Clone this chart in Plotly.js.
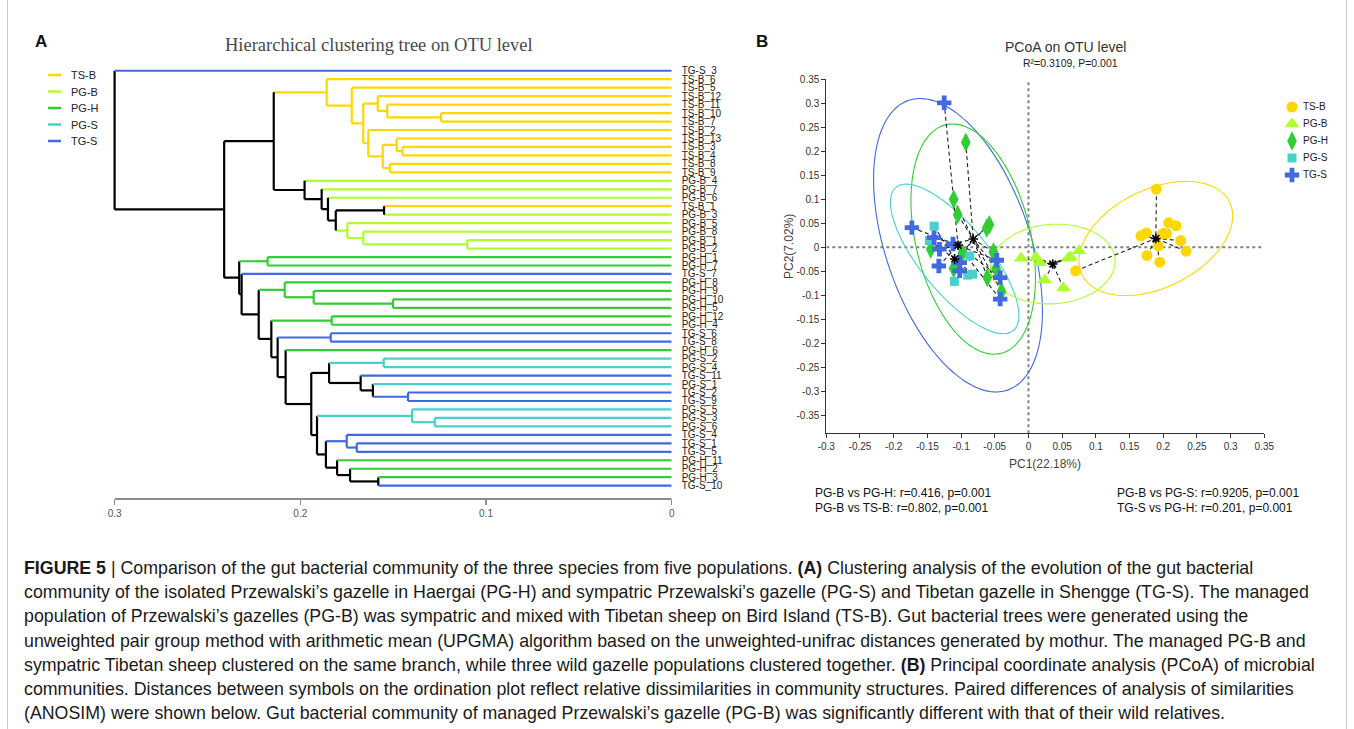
<!DOCTYPE html>
<html>
<head>
<meta charset="utf-8">
<script src="https://cdn.plot.ly/plotly-3.0.1.min.js"></script>
<style>
  html, body { margin: 0; padding: 0; background: #fff; }
  #fig { width: 1354px; height: 729px; }
</style>
</head>
<body>
<div id="fig"></div>
<script>
// ---------- page geometry helpers (pixels -> paper fractions) ----------
const W = 1354, H = 729;
const px = x => x / W;
const py = y => 1 - y / H;

// ---------- groups ----------
const groups       = ['TS-B', 'PG-B', 'PG-H', 'PG-S', 'TG-S'];
const groupColors  = ['#FFD700', '#ADFF2F', '#32CD32', '#48D1CC', '#4169E1'];
const groupSymbols = ['circle', 'triangle-up', 'diamond-tall', 'square', 'cross'];
const groupSizes   = [11, 13, 14, 9, 12];
const colorOf = g => groupColors[groups.indexOf(g)];

// ---------- (A) UPGMA tree: leaf order top to bottom ----------
const leafOrder = [
  'TG-S_3', 'TS-B_6', 'TS-B_5', 'TS-B_12', 'TS-B_11', 'TS-B_10', 'TS-B_7', 'TS-B_2',
  'TS-B_13', 'TS-B_3', 'TS-B_4', 'TS-B_8', 'TS-B_9', 'PG-B_4', 'PG-B_7', 'PG-B_6',
  'TS-B_1', 'PG-B_3', 'PG-B_5', 'PG-B_8', 'PG-B_1', 'PG-B_2', 'PG-H_1', 'PG-H_7',
  'TG-S_7', 'PG-H_8', 'PG-H_9', 'PG-H_10', 'PG-H_5', 'PG-H_12', 'PG-H_4', 'TG-S_6',
  'TG-S_8', 'PG-H_6', 'PG-S_2', 'PG-S_4', 'TG-S_11', 'PG-S_1', 'TG-S_2', 'TG-S_9',
  'PG-S_5', 'PG-S_3', 'PG-S_6', 'TG-S_4', 'TG-S_1', 'TG-S_5', 'PG-H_11', 'PG-H_2',
  'PG-H_3', 'TG-S_10'
];

// merge table: [node id, left child, right child, merge height]
const merges = [
  ['t1', 'TS-B_10', 'TS-B_7', 0.1242],
  ['t2', 'TS-B_11', 't1', 0.1532],
  ['t3', 'TS-B_12', 't2', 0.1583],
  ['t4', 'TS-B_3', 'TS-B_4', 0.1449],
  ['t5', 'TS-B_13', 't4', 0.1481],
  ['t6', 'TS-B_8', 'TS-B_9', 0.1517],
  ['t7', 't5', 't6', 0.1556],
  ['t8', 'TS-B_2', 't7', 0.1634],
  ['t9', 't3', 't8', 0.1661],
  ['t10', 'TS-B_5', 't9', 0.1723],
  ['t11', 'TS-B_6', 't10', 0.1858],
  ['b1', 'PG-B_1', 'PG-B_2', 0.1101],
  ['b2', 'PG-B_8', 'b1', 0.1661],
  ['b3', 'PG-B_5', 'b2', 0.1747],
  ['b4', 'TS-B_1', 'PG-B_3', 0.1549],
  ['b5', 'b4', 'b3', 0.1809],
  ['b6', 'PG-B_6', 'b5', 0.1851],
  ['b7', 'PG-B_7', 'b6', 0.1885],
  ['b8', 'PG-B_4', 'b7', 0.1977],
  ['m1', 't11', 'b8', 0.2143],
  ['w1', 'PG-H_1', 'PG-H_7', 0.2176],
  ['w2', 'PG-H_10', 'PG-H_5', 0.1501],
  ['w3', 'PG-H_9', 'w2', 0.1928],
  ['w4', 'PG-H_8', 'w3', 0.2084],
  ['w5', 'PG-H_12', 'PG-H_4', 0.1831],
  ['w6', 'TG-S_6', 'TG-S_8', 0.1836],
  ['w7', 'PG-S_2', 'PG-S_4', 0.1551],
  ['w8', 'TG-S_2', 'TG-S_9', 0.1420],
  ['w9', 'PG-S_1', 'w8', 0.1609],
  ['w10', 'TG-S_11', 'w9', 0.1675],
  ['w11', 'w7', 'w10', 0.1845],
  ['w12', 'PG-S_3', 'PG-S_6', 0.1276],
  ['w13', 'PG-S_5', 'w12', 0.1398],
  ['w14', 'TG-S_1', 'TG-S_5', 0.1696],
  ['w15', 'TG-S_4', 'w14', 0.1750],
  ['w16', 'PG-H_3', 'TG-S_10', 0.1580],
  ['w17', 'PG-H_2', 'w16', 0.1732],
  ['w18', 'PG-H_11', 'w17', 0.1802],
  ['w19', 'w15', 'w18', 0.1862],
  ['w20', 'w13', 'w19', 0.1910],
  ['w21', 'w11', 'w20', 0.1941],
  ['w22', 'PG-H_6', 'w21', 0.2079],
  ['w23', 'w6', 'w22', 0.2122],
  ['w24', 'w5', 'w23', 0.2156],
  ['w25', 'w4', 'w24', 0.2224],
  ['w26', 'TG-S_7', 'w25', 0.2316],
  ['w27', 'w1', 'w26', 0.2329],
  ['m2', 'm1', 'w27', 0.2410],
  ['root', 'TG-S_3', 'm2', 0.3000]
];
const treeTicks = [0.3, 0.2, 0.1, 0];
const treeTickText = ['0.3', '0.2', '0.1', '0'];

// ---------- (B) PCoA scores per group ----------
const tsbPC1 = [0.190, 0.208, 0.219, 0.167, 0.175, 0.199, 0.205, 0.226, 0.193, 0.234, 0.176, 0.195, 0.070];
const tsbPC2 = [0.121, 0.051, 0.045, 0.024, 0.030, 0.028, 0.028, 0.014, 0.003, -0.008, -0.017, -0.031, -0.049];
const pgbPC1 = [-0.011, 0.011, 0.017, 0.024, 0.052, 0.059, 0.062, 0.075];
const pgbPC2 = [-0.023, -0.021, -0.032, -0.068, -0.085, -0.023, -0.020, -0.007];
const pghPC1 = [-0.093, -0.111, -0.105, -0.058, -0.062, -0.145, -0.052, -0.111, -0.048, -0.061, -0.040, -0.098];
const pghPC2 = [0.219, 0.100, 0.068, 0.047, 0.040, -0.004, -0.010, -0.044, -0.044, -0.063, -0.092, -0.012];
const pgsPC1 = [-0.140, -0.147, -0.087, -0.110, -0.090, -0.083];
const pgsPC2 = [0.044, 0.014, -0.018, -0.071, -0.058, -0.056];
const tgsPC1 = [-0.125, -0.173, -0.140, -0.132, -0.112, -0.133, -0.102, -0.102, -0.047, -0.042, -0.042];
const tgsPC2 = [0.301, 0.041, 0.020, -0.004, 0.007, -0.039, -0.032, -0.049, -0.027, -0.063, -0.108];
const pcoaX = [tsbPC1, pgbPC1, pghPC1, pgsPC1, tgsPC1];
const pcoaY = [tsbPC2, pgbPC2, pghPC2, pgsPC2, tgsPC2];

const pcTicksX = [-0.3, -0.25, -0.2, -0.15, -0.1, -0.05, 0, 0.05, 0.1, 0.15, 0.2, 0.25, 0.3, 0.35];
const pcTickTextX = ['-0.3', '-0.25', '-0.2', '-0.15', '-0.1', '-0.05', '0', '0.05', '0.1', '0.15', '0.2', '0.25', '0.3', '0.35'];
const pcTicksY = [-0.35, -0.3, -0.25, -0.2, -0.15, -0.1, -0.05, 0, 0.05, 0.1, 0.15, 0.2, 0.25, 0.3, 0.35];
const pcTickTextY = ['-0.35', '-0.3', '-0.25', '-0.2', '-0.15', '-0.1', '-0.05', '0', '0.05', '0.1', '0.15', '0.2', '0.25', '0.3', '0.35'];

const anosim = [
  'PG-B vs PG-H: r=0.416, p=0.001',
  'PG-B vs TS-B: r=0.802, p=0.001',
  'PG-B vs PG-S: r=0.9205, p=0.001',
  'TG-S vs PG-H: r=0.201, p=0.001'
];

const captionLines = [
  '<b>FIGURE 5</b> | Comparison of the gut bacterial community of the three species from five populations. <b>(A)</b> Clustering analysis of the evolution of the gut bacterial',
  'community of the isolated Przewalski\u2019s gazelle in Haergai (PG-H) and sympatric Przewalski\u2019s gazelle (PG-S) and Tibetan gazelle in Shengge (TG-S). The managed',
  'population of Przewalski\u2019s gazelles (PG-B) was sympatric and mixed with Tibetan sheep on Bird Island (TS-B). Gut bacterial trees were generated using the',
  'unweighted pair group method with arithmetic mean (UPGMA) algorithm based on the unweighted-unifrac distances generated by mothur. The managed PG-B and',
  'sympatric Tibetan sheep clustered on the same branch, while three wild gazelle populations clustered together. <b>(B)</b> Principal coordinate analysis (PCoA) of microbial',
  'communities. Distances between symbols on the ordination plot reflect relative dissimilarities in community structures. Paired differences of analysis of similarities',
  '(ANOSIM) were shown below. Gut bacterial community of managed Przewalski\u2019s gazelle (PG-B) was significantly different with that of their wild relatives.'
];

const SANS = 'Liberation Sans, Arial, sans-serif';
const traces = [];

// ---------- build dendrogram segments ----------
const node = {};
leafOrder.forEach((name, i) => { node[name] = { h: 0, y: i, g: name.split('_')[0] }; });
const segs = {}; // colour -> {x:[], y:[]}
function addSeg(col, x0, y0, x1, y1) {
  if (!segs[col]) segs[col] = { x: [], y: [] };
  segs[col].x.push(x0, x1, null);
  segs[col].y.push(y0, y1, null);
}
merges.forEach(([id, a, b, h]) => {
  const A = node[a], B = node[b];
  const g = (A.g && A.g === B.g) ? A.g : null;
  node[id] = { h: h, y: (A.y + B.y) / 2, g: g };
  addSeg(g ? colorOf(g) : '#000000', h, A.y, h, B.y);
  addSeg(A.g ? colorOf(A.g) : '#000000', h, A.y, A.h, A.y);
  addSeg(B.g ? colorOf(B.g) : '#000000', h, B.y, B.h, B.y);
});
Object.keys(segs).forEach(col => {
  traces.push({
    type: 'scatter', mode: 'lines', xaxis: 'x2', yaxis: 'y2',
    x: segs[col].x, y: segs[col].y,
    line: { color: col, width: 2.2 }, hoverinfo: 'skip', showlegend: false
  });
});

// dendrogram legend (line swatches)
groups.forEach((g, i) => {
  traces.push({
    type: 'scatter', mode: 'lines', xaxis: 'x4', yaxis: 'y4',
    x: [0, 1], y: [i, i], line: { color: groupColors[i], width: 2.5 },
    hoverinfo: 'skip', showlegend: false
  });
});

// ---------- PCoA: confidence ellipses ----------
function ellipse(xs, ys, level) {
  const n = xs.length;
  const mx = xs.reduce((s, v) => s + v, 0) / n;
  const my = ys.reduce((s, v) => s + v, 0) / n;
  let sxx = 0, syy = 0, sxy = 0;
  for (let i = 0; i < n; i++) {
    sxx += (xs[i] - mx) ** 2; syy += (ys[i] - my) ** 2; sxy += (xs[i] - mx) * (ys[i] - my);
  }
  sxx /= (n - 1); syy /= (n - 1); sxy /= (n - 1);
  // F(2, n-1) quantile has a closed form
  const d = n - 1;
  const f = (d / 2) * (Math.pow(1 - level, -2 / d) - 1);
  const r = Math.sqrt(2 * f);
  // eigen decomposition of 2x2 covariance
  const tr = (sxx + syy) / 2, df = Math.sqrt(((sxx - syy) / 2) ** 2 + sxy ** 2);
  const l1 = tr + df, l2 = Math.max(tr - df, 0);
  const th = 0.5 * Math.atan2(2 * sxy, sxx - syy);
  const ex = [], ey = [];
  for (let k = 0; k <= 120; k++) {
    const t = 2 * Math.PI * k / 120;
    const u = r * Math.sqrt(l1) * Math.cos(t), v = r * Math.sqrt(l2) * Math.sin(t);
    ex.push(mx + u * Math.cos(th) - v * Math.sin(th));
    ey.push(my + u * Math.sin(th) + v * Math.cos(th));
  }
  return { ex, ey, mx, my };
}

const ells = groups.map((g, i) => ellipse(pcoaX[i], pcoaY[i], 0.95));
// ellipses (drawn back to front: TG-S largest first)
[4, 2, 3, 1, 0].forEach(i => {
  traces.push({
    type: 'scatter', mode: 'lines', x: ells[i].ex, y: ells[i].ey,
    line: { color: groupColors[i], width: 1.1, shape: 'spline' },
    hoverinfo: 'skip', showlegend: false
  });
});
// spokes from every sample to its group centroid
groups.forEach((g, i) => {
  const sx = [], sy = [];
  pcoaX[i].forEach((v, k) => { sx.push(v, ells[i].mx, null); sy.push(pcoaY[i][k], ells[i].my, null); });
  traces.push({
    type: 'scatter', mode: 'lines', x: sx, y: sy,
    line: { color: '#222', width: 1.1, dash: '4px,3px' },
    hoverinfo: 'skip', showlegend: false
  });
});
// sample markers
[2, 3, 4, 1, 0].forEach(i => {
  traces.push({
    type: 'scatter', mode: 'markers', x: pcoaX[i], y: pcoaY[i], name: groups[i],
    marker: { symbol: groupSymbols[i], size: groupSizes[i], color: groupColors[i], line: { width: 0 } },
    cliponaxis: false, showlegend: false
  });
});
// centroids
traces.push({
  type: 'scatter', mode: 'markers',
  x: ells.map(e => e.mx), y: ells.map(e => e.my),
  marker: { symbol: 'asterisk-open', size: 8, color: '#000', line: { color: '#000', width: 1.5 } },
  hoverinfo: 'skip', showlegend: false
});

// PCoA legend (marker swatches)
groups.forEach((g, i) => {
  traces.push({
    type: 'scatter', mode: 'markers', xaxis: 'x3', yaxis: 'y3',
    x: [0], y: [i],
    marker: { symbol: groupSymbols[i], size: groupSizes[i], color: groupColors[i], line: { width: 0 } },
    cliponaxis: false, hoverinfo: 'skip', showlegend: false
  });
});

// ---------- annotations ----------
const ann = [];
const txt = (text, x, y, size, opts = {}) => ann.push(Object.assign({
  text: text, x: px(x), y: py(y), xref: 'paper', yref: 'paper', showarrow: false,
  xanchor: 'left', yanchor: 'middle', font: { family: SANS, size: size, color: '#111' }
}, opts));

txt('<b>A</b>', 41, 42, 17, { xanchor: 'center', font: { family: SANS, size: 17, color: '#111' } });
txt('<b>B</b>', 762, 42, 17, { xanchor: 'center', font: { family: SANS, size: 17, color: '#111' } });
txt('Hierarchical clustering tree on OTU level', 378.5, 45, 18.5,
    { xanchor: 'center', font: { family: 'Liberation Serif, DejaVu Serif, serif', size: 18.5, color: '#4a4a4a' } });
txt('PCoA on OTU level', 1065, 47, 14, { xanchor: 'center', font: { family: SANS, size: 14, color: '#333' } });
txt('R\u00b2=0.3109, P=0.001', 1070, 63, 10.5, { xanchor: 'center', font: { family: SANS, size: 10.5, color: '#222' } });
txt('PC1(22.18%)', 1045, 464, 12, { xanchor: 'center', font: { family: SANS, size: 12, color: '#444' } });
txt('PC2(7.02%)', 789, 247, 12, { xanchor: 'center', textangle: -90, font: { family: SANS, size: 12, color: '#444' } });
txt(anosim[0], 813, 493, 12);
txt(anosim[1], 813, 508, 12);
txt(anosim[2], 1115, 493, 12);
txt(anosim[3], 1115, 508, 12);

// legend labels
groups.forEach((g, i) => {
  ann.push({ text: g, xref: 'x4', yref: 'y4', x: 1, y: i, xanchor: 'left', yanchor: 'middle',
             xshift: 8, showarrow: false, font: { family: SANS, size: 11, color: '#222' } });
  ann.push({ text: g, xref: 'x3', yref: 'y3', x: 0, y: i, xanchor: 'left', yanchor: 'middle',
             xshift: 9, showarrow: false, font: { family: SANS, size: 10, color: '#222' } });
});

captionLines.forEach((line, i) => {
  txt(line, 22, 568 + 24.2 * i, 17.8, { font: { family: SANS, size: 17.8, color: '#1a1a1a' } });
});

// ---------- shapes: frame, tree axis line, zero reference lines ----------
const shapes = [
  { type: 'line', xref: 'paper', yref: 'paper', x0: px(7.5), x1: px(7.5), y0: 0, y1: 1,
    line: { color: '#c8c8c8', width: 1 } },
  { type: 'line', xref: 'paper', yref: 'paper', x0: px(1346.5), x1: px(1346.5), y0: 0, y1: 1,
    line: { color: '#c8c8c8', width: 1 } },
  { type: 'line', xref: 'x2', yref: 'paper', x0: 0.3, x1: 0, y0: py(499), y1: py(499),
    line: { color: '#8c8c8c', width: 2 } },
  { type: 'line', xref: 'x', yref: 'y', x0: 0, x1: 0, y0: -0.3875, y1: 0.35, layer: 'below',
    line: { color: '#808080', width: 2, dash: 'dot' } },
  { type: 'line', xref: 'x', yref: 'y', x0: -0.3, x1: 0.35, y0: 0, y1: 0, layer: 'below',
    line: { color: '#808080', width: 2, dash: 'dot' } }
];

const treeLeft = 671.7 - 0.3045 * 1857;
const layout = {
  width: W, height: H, margin: { l: 0, r: 0, t: 0, b: 0 },
  paper_bgcolor: '#fff', plot_bgcolor: 'rgba(0,0,0,0)',
  showlegend: false, font: { family: SANS },
  // PCoA panel
  xaxis: {
    domain: [px(826.3), px(1264.3)], range: [-0.3, 0.35], anchor: 'y',
    tickvals: pcTicksX, ticktext: pcTickTextX, ticks: 'outside', ticklen: 4, tickcolor: '#333',
    showline: true, linecolor: '#333', linewidth: 1, showgrid: false, zeroline: false,
    tickfont: { size: 10, color: '#333' }
  },
  yaxis: {
    domain: [py(433.3), py(79.3)], range: [-0.3875, 0.35], anchor: 'x',
    tickvals: pcTicksY, ticktext: pcTickTextY, ticks: 'outside', ticklen: 4, tickcolor: '#333',
    showline: true, linecolor: '#333', linewidth: 1, showgrid: false, zeroline: false,
    tickfont: { size: 10, color: '#333' }
  },
  // dendrogram panel
  xaxis2: {
    domain: [px(treeLeft), px(671.7)], range: [0.3045, 0], anchor: 'free', position: py(499),
    tickvals: treeTicks, ticktext: treeTickText, ticks: 'outside', ticklen: 5, tickwidth: 1.5,
    tickcolor: '#8c8c8c', showline: false, showgrid: false, zeroline: false,
    tickfont: { size: 10, color: '#555' }
  },
  yaxis2: {
    domain: [py(489.9), py(66.5)], range: [49.5, -0.5], anchor: 'x2', side: 'right',
    tickvals: leafOrder.map((_, i) => i), ticktext: leafOrder, ticks: '', ticklabelstandoff: 9,
    showline: false, showgrid: false, zeroline: false,
    tickfont: { size: 10, color: '#222' }
  },
  // PCoA legend swatches
  xaxis3: { domain: [px(1292), px(1302)], range: [0, 1], anchor: 'y3', visible: false },
  yaxis3: { domain: [py(183.5), py(98.5)], range: [4.5, -0.5], anchor: 'x3', visible: false },
  // tree legend swatches
  xaxis4: { domain: [px(48), px(61)], range: [0, 1], anchor: 'y4', visible: false },
  yaxis4: { domain: [py(149.25), py(66.75)], range: [4.5, -0.5], anchor: 'x4', visible: false },
  annotations: ann,
  shapes: shapes
};

Plotly.newPlot('fig', traces, layout, { displayModeBar: false, staticPlot: true });
</script>
</body>
</html>
